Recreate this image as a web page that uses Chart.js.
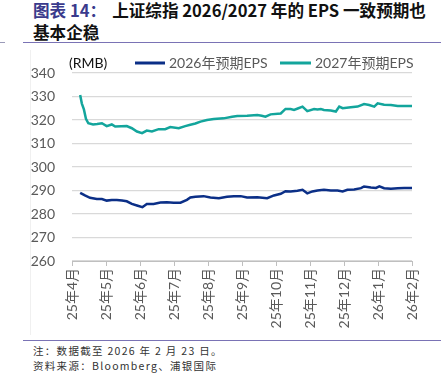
<!DOCTYPE html>
<html>
<head>
<meta charset="utf-8">
<script src="https://cdn.jsdelivr.net/npm/chart.js@4"></script>
<style>
  html, body { margin: 0; padding: 0; background: #fff; }
  body { width: 441px; height: 374px; position: relative; overflow: hidden; font-family: "Noto Sans CJK SC", sans-serif; }
  #title { position: absolute; left: 33px; top: -1px; font-size: 16.6px; line-height: 22px; font-weight: bold; color: #111; white-space: nowrap; letter-spacing: 0px; }
  #title .num { color: #3a3a8c; margin-right: 6px; }
  .rule { position: absolute; height: 0; border-top: 1.5px solid #7a73b5; }
  #notes { position: absolute; left: 33px; top: 343px; font-size: 10.5px; line-height: 15px; color: #333; white-space: nowrap; letter-spacing: 1.3px; }
  #wrap { position: absolute; left: 0; top: 44px; width: 441px; height: 287px; }
  #vline { position: absolute; left: 30px; top: 50px; width: 0; height: 285px; border-left: 1px solid #f0f0f0; }
</style>
</head>
<body>
<div id="title"><span class="num">图表 14：</span>上证综指 2026/2027 年的 EPS 一致预期也<br>基本企稳</div>
<div class="rule" style="left:23px; width:418px; top:42px;"></div>
<div class="rule" style="left:0px; width:5px; top:42px; border-color:#9a9ab8;"></div>
<div id="vline"></div>
<div id="wrap"><canvas id="c" width="441" height="287"></canvas></div>
<div class="rule" style="left:23px; width:418px; top:340px;"></div>
<div id="notes">注：数据截至 2026 年 2 月 23 日。<br>资料来源：Bloomberg、浦银国际</div>
<script>
// Month tick labels (x position = months since Apr 2025)
const monthLabels = ['25年4月','25年5月','25年6月','25年7月','25年8月','25年9月','25年10月','25年11月','25年12月','26年1月','26年2月'];
const seriesNames = ['2026年预期EPS', '2027年预期EPS'];

// 2026 EPS forecast (RMB)
const x2026 = [0.24,0.38,0.53,0.73,0.88,1.02,1.17,1.32,1.47,1.61,1.76,1.91,2.07,2.20,2.40,2.60,2.79,2.99,3.19,3.38,3.48,3.63,3.87,4.07,4.32,4.56,4.76,4.96,5.15,5.45,5.74,5.94,6.14,6.28,6.43,6.63,6.78,6.92,7.07,7.22,7.41,7.61,7.81,7.96,8.10,8.30,8.50,8.59,8.79,8.94,9.04,9.18,9.38,9.58,9.77,10.0];
const eps2026 = [289.0,287.9,286.9,286.4,286.4,285.7,286.0,286.0,285.7,285.4,284.3,283.6,282.9,284.3,284.3,284.9,285.0,284.8,284.8,286.0,287.0,287.3,287.6,287.0,286.7,287.3,287.6,287.6,287.0,287.1,286.7,287.9,288.6,289.7,289.6,289.9,290.3,288.8,289.6,290.0,290.3,290.0,290.0,289.6,290.3,290.4,291.0,291.7,291.3,291.1,291.8,291.0,290.7,291.0,291.1,291.1];

// 2027 EPS forecast (RMB)
const x2027 = [0.24,0.29,0.35,0.41,0.48,0.62,0.74,0.88,1.02,1.17,1.27,1.45,1.61,1.76,1.91,2.06,2.20,2.35,2.55,2.74,2.89,3.14,3.33,3.48,3.63,3.78,3.97,4.17,4.46,4.71,4.86,5.15,5.45,5.58,5.69,5.84,6.14,6.28,6.43,6.53,6.64,6.78,6.92,7.12,7.22,7.32,7.41,7.61,7.76,7.86,7.96,8.20,8.40,8.59,8.74,8.89,8.99,9.18,9.38,9.58,9.77,10.0];
const eps2027 = [330.6,327.0,324.5,320.5,318.6,318.1,318.3,318.6,317.4,318.1,317.2,317.3,317.4,316.5,315.1,314.4,315.5,315.1,316.1,316.1,317.0,316.5,317.4,318.0,318.5,319.3,320.0,320.4,320.7,321.4,321.7,321.8,322.1,321.8,321.4,322.4,322.8,324.7,324.7,324.3,324.9,325.7,323.8,324.7,324.5,324.7,324.3,324.0,323.6,325.7,325.0,325.4,325.7,326.8,326.4,325.7,327.1,326.5,326.4,326.0,326.0,326.0];

const yTicks = [260, 270, 280, 290, 300, 310, 320, 330, 340];

const colors = ['#0b2f87', '#13a59c'];
const toPts = (xs, ys) => xs.map((x, i) => ({ x: x, y: ys[i] }));

const legendPlugin = {
  id: 'customLegend',
  afterDraw(chart) {
    const ctx = chart.ctx;
    ctx.save();
    const y = 19;
    ctx.font = '14px Lato, "Noto Sans CJK SC", sans-serif';
    ctx.textBaseline = 'middle';
    ctx.fillStyle = '#111';
    ctx.textAlign = 'left';
    ctx.fillText('(RMB)', 69, y);
    const items = [[135, 165, 169], [280, 311, 315]];
    items.forEach((it, i) => {
      ctx.strokeStyle = colors[i];
      ctx.lineWidth = 3;
      ctx.beginPath();
      ctx.moveTo(it[0], y);
      ctx.lineTo(it[1], y);
      ctx.stroke();
      ctx.fillStyle = '#595959';
      ctx.fillText(seriesNames[i], it[2], y);
    });
    ctx.restore();
  }
};

new Chart(document.getElementById('c'), {
  type: 'line',
  data: {
    datasets: [
      { label: seriesNames[0], data: toPts(x2026, eps2026), borderColor: colors[0], backgroundColor: colors[0], borderWidth: 2.5, pointRadius: 0, tension: 0 },
      { label: seriesNames[1], data: toPts(x2027, eps2027), borderColor: colors[1], backgroundColor: colors[1], borderWidth: 2.5, pointRadius: 0, tension: 0 }
    ]
  },
  options: {
    responsive: false,
    animation: false,
    layout: { padding: { left: 0, right: 29, top: 29, bottom: 0 } },
    plugins: { legend: { display: false }, tooltip: { enabled: false } },
    scales: {
      x: {
        type: 'linear',
        min: 0, max: 10,
        afterBuildTicks(scale) { scale.ticks = monthLabels.map((_, i) => ({ value: i })); },
        afterFit(scale) { scale.height = 70; },
        ticks: {
          minRotation: 90, maxRotation: 90, autoSkip: false, padding: 2,
          color: '#595959', font: { size: 14, family: 'Lato, "Noto Sans CJK SC", sans-serif' },
          callback: (v) => monthLabels[v]
        },
        grid: { drawOnChartArea: false, drawTicks: true, tickLength: 5, color: '#bfbfbf' },
        border: { color: '#bfbfbf', width: 1 }
      },
      y: {
        min: 260, max: 340,
        afterBuildTicks(scale) { scale.ticks = yTicks.map(v => ({ value: v })); },
        afterFit(scale) { scale.width = 72; },
        ticks: { padding: 17, color: '#595959', font: { size: 14, family: 'Lato, "Noto Sans", sans-serif' } },
        grid: { color: '#d9d9d9', lineWidth: 1.2, drawTicks: false },
        border: { display: false }
      }
    }
  },
  plugins: [legendPlugin]
});
</script>
</body>
</html>
